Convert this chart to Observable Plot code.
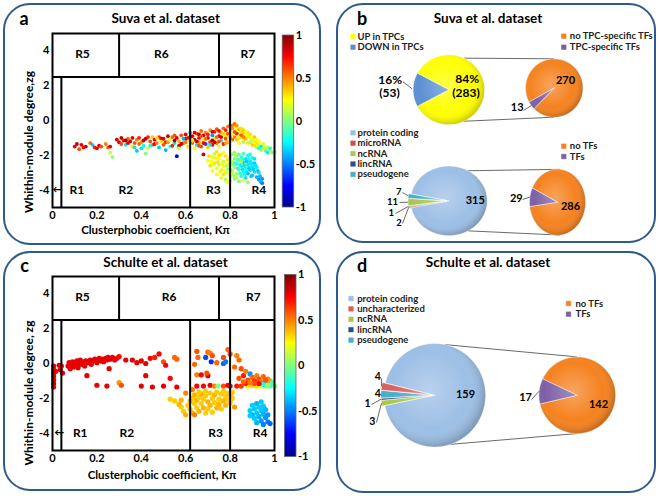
<!DOCTYPE html>
<html><head><meta charset="utf-8">
<script src="https://cdn.jsdelivr.net/npm/d3@7"></script>
<script src="https://cdn.jsdelivr.net/npm/@observablehq/plot@0.6"></script>
<style>
body{margin:0;background:#fff;font-family:Lato,"Open Sans",sans-serif;}
#root{position:relative;width:660px;height:496px;overflow:hidden;background:#fff;}
.panel{position:absolute;border:2px solid #2f5b8c;border-radius:27px;box-sizing:border-box;}
.t{position:absolute;font-weight:bold;white-space:nowrap;color:#000;transform:translate(-50%,-50%);line-height:1;}
</style></head>
<body><div id="root"></div>
<script>
// ---------------- DATA ----------------
const xTicks = [0, 0.2, 0.4, 0.6, 0.8, 1];
const yTicks = [-4, -2, 0, 2, 4];
const cbTicks = [-1, -0.5, 0, 0.5, 1];
const zBoundary = [2.5];
const upperBounds = [0.3, 0.75];
const lowerBounds = [0.04, 0.62, 0.8];
const regionNames = ["R1","R2","R3","R4","R5","R6","R7"];

// Suva scatter [K, z, colour value]
const suvaPoints = [
[0.10,-1.50,0.8],[0.11,-1.35,0.85],[0.12,-1.65,0.6],[0.13,-1.40,0.8],[0.14,-1.55,0.75],[0.15,-1.50,0.85],[0.17,-1.30,0.55],[0.18,-1.40,-0.35],[0.19,-1.55,0.7],[0.20,-1.60,0.8],[0.21,-1.45,0.85],[0.22,-1.50,0.6],[0.24,-1.35,0.5],[0.25,-1.55,0.55],[0.26,-1.85,0.15],[0.27,-2.10,0.05],[0.26,-1.50,0.8],
[0.29,-1.10,0.85],[0.30,-1.25,0.8],[0.31,-1.00,0.9],[0.32,-1.15,0.75],[0.33,-1.40,-0.3],[0.34,-1.05,0.55],[0.35,-1.20,0.85],[0.36,-1.50,0.3],[0.37,-1.30,0.6],[0.38,-1.75,-0.35],[0.38,-1.10,0.5],[0.39,-1.00,0.7],[0.40,-1.25,0.45],[0.41,-1.45,-0.2],[0.42,-1.05,0.9],[0.43,-1.60,0.15],[0.44,-1.20,0.6],[0.45,-0.95,0.35],[0.45,-1.40,0.55],[0.42,-1.90,0.0],[0.34,-1.30,0.8],[0.40,-1.60,-0.3],
[0.31,-1.35,0.6],[0.33,-1.15,0.9],[0.36,-1.00,0.8],[0.37,-1.55,-0.3],[0.39,-1.35,0.55],[0.41,-1.15,0.85],[0.43,-0.95,0.7],[0.44,-1.45,-0.25],[0.46,-1.35,0.8],[0.49,-1.05,0.9],[0.51,-1.25,0.7],[0.53,-1.50,-0.2],[0.55,-0.85,0.6],[0.57,-1.45,0.85],[0.59,-1.30,0.55],[0.60,-1.05,0.9],
[0.46,-1.10,0.85],[0.47,-1.30,0.5],[0.48,-0.95,0.7],[0.48,-1.55,-0.35],[0.49,-1.20,0.3],[0.50,-1.05,0.8],[0.50,-1.40,0.6],[0.51,-1.70,-0.4],[0.52,-0.90,0.85],[0.52,-1.25,0.45],[0.53,-1.10,0.2],[0.54,-1.45,0.7],[0.54,-0.95,0.55],[0.55,-1.30,-0.3],[0.56,-2.05,-0.85],[0.56,-1.00,0.8],[0.57,-1.20,0.4],[0.57,-1.60,0.1],[0.58,-0.85,0.6],[0.58,-1.35,0.85],[0.59,-1.05,-0.4],[0.60,-1.25,0.5],[0.60,-0.80,0.8],[0.61,-1.50,0.3],[0.61,-1.00,0.7],[0.62,-1.20,0.2],[0.62,-0.70,-0.35],[0.47,-1.00,0.3],[0.55,-1.15,0.9],
[0.63,-0.90,0.8],[0.63,-1.30,0.55],[0.64,-1.10,0.85],[0.64,-1.60,0.25],[0.65,-0.75,0.6],[0.65,-1.40,-0.3],[0.66,-1.00,0.75],[0.66,-1.25,0.45],[0.67,-0.60,0.55],[0.67,-1.50,0.6],[0.68,-0.85,0.85],[0.68,-1.15,0.3],[0.69,-1.35,-0.6],[0.69,-0.70,0.5],[0.70,-1.00,0.8],[0.70,-1.55,0.35],[0.71,-0.55,0.45],[0.71,-1.25,0.65],[0.72,-0.85,-0.45],[0.72,-1.40,0.8],[0.73,-1.05,0.3],[0.73,-0.65,0.7],[0.74,-1.30,0.5],[0.74,-0.50,0.6],[0.75,-0.90,0.85],[0.75,-1.50,0.2],[0.76,-0.70,0.4],[0.76,-1.15,-0.3],[0.77,-0.45,0.55],[0.77,-1.35,0.7],[0.78,-0.85,0.3],[0.78,-1.05,0.6],[0.79,-0.35,0.5],[0.79,-1.25,0.4],[0.68,-1.95,0.85],[0.66,-0.80,0.9],[0.72,-1.15,0.9],[0.75,-0.60,0.75],
[0.62,-0.95,0.85],[0.63,-1.15,0.3],[0.64,-0.70,0.8],[0.65,-1.20,0.85],[0.66,-1.45,0.6],[0.67,-0.90,0.6],[0.68,-1.30,0.8],[0.69,-1.05,0.55],[0.70,-0.80,0.7],[0.71,-1.40,-0.3],[0.72,-0.65,0.85],[0.73,-1.25,0.85],[0.74,-0.95,0.55],[0.75,-1.20,0.6],[0.76,-0.95,0.8],[0.77,-0.75,0.35],[0.78,-0.55,0.7],[0.78,-1.30,0.45],[0.79,-0.75,0.6],
[0.80,-0.30,0.6],[0.80,-0.60,0.3],[0.81,-0.45,0.45],[0.81,-0.80,0.2],[0.82,-0.35,0.3],[0.82,-0.95,0.5],[0.83,-0.55,0.25],[0.83,-1.10,0.35],[0.84,-0.50,0.4],[0.84,-0.75,0.15],[0.85,-0.65,0.3],[0.85,-1.00,0.2],[0.86,-0.70,0.35],[0.86,-1.20,0.1],[0.87,-0.85,0.25],[0.87,-1.05,0.4],[0.88,-0.90,0.2],[0.88,-1.30,0.3],[0.89,-1.00,0.25],[0.90,-1.15,0.15],[0.90,-1.40,0.35],[0.91,-1.20,0.2],[0.92,-1.30,0.3],[0.92,-1.55,0.1],[0.93,-1.40,0.15],[0.94,-1.50,-0.3],[0.94,-1.70,0.05],[0.95,-1.60,0.2],[0.96,-1.75,-0.1],[0.96,-1.55,0.1],[0.97,-1.85,-0.3],[0.98,-1.75,0.05],[0.99,-1.85,0.0],[1.00,-1.80,-0.1],[0.83,-0.75,0.7],[0.85,-0.85,0.6],[0.81,-1.10,0.55],[0.82,-0.20,0.55],[0.84,-1.30,0.25],[0.86,-0.95,0.5],[0.89,-1.25,0.1],[0.91,-1.45,0.3],[0.93,-1.60,-0.2],
[0.80,-0.95,0.5],[0.80,-1.20,0.3],[0.81,-0.30,0.5],[0.82,-0.65,0.6],[0.83,-0.30,0.45],[0.84,-1.00,0.3],[0.85,-0.45,0.3],[0.86,-0.55,0.35],[0.87,-0.65,0.25],[0.88,-0.70,0.3],[0.89,-0.80,0.3],[0.90,-0.95,0.25],[0.91,-0.95,0.35],[0.92,-1.10,0.2],[0.93,-1.20,0.25],[0.95,-1.35,0.2],[0.97,-1.55,0.15],[0.98,-1.60,-0.2],
[0.70,-2.30,0.25],[0.71,-2.60,0.3],[0.72,-2.10,0.2],[0.72,-2.90,0.25],[0.73,-1.90,0.15],[0.73,-2.45,0.3],[0.74,-2.75,0.2],[0.74,-3.10,0.25],[0.75,-2.20,0.25],[0.75,-2.55,0.15],[0.76,-1.95,0.2],[0.76,-2.85,0.3],[0.76,-3.30,0.2],[0.77,-2.35,0.15],[0.77,-2.65,0.25],[0.78,-2.05,0.3],[0.78,-3.00,0.15],[0.78,-3.40,0.1],[0.79,-2.45,0.2],[0.79,-2.80,0.05],[0.80,-2.15,0.1],[0.80,-3.20,0.2],[0.80,-2.60,0.25],[0.81,-1.95,0.0],[0.81,-2.40,-0.1],[0.81,-2.95,0.15],[0.82,-2.20,-0.05],[0.82,-2.70,0.1],[0.82,-3.35,0.0],[0.83,-2.00,-0.15],[0.83,-2.50,-0.2],[0.83,-3.05,0.05],[0.84,-2.30,-0.25],[0.84,-2.85,-0.1],[0.84,-3.50,0.0],[0.85,-2.10,-0.2],[0.85,-2.60,-0.3],[0.85,-3.20,-0.15],[0.86,-1.90,-0.1],[0.86,-2.40,-0.35],[0.86,-2.95,-0.25],[0.87,-2.20,-0.3],[0.87,-2.75,-0.2],[0.87,-3.30,-0.3],[0.88,-2.00,-0.25],[0.88,-2.55,-0.35],[0.88,-3.05,-0.4],[0.89,-2.35,-0.3],[0.89,-2.85,-0.35],[0.90,-2.15,-0.2],[0.90,-2.65,-0.3],[0.90,-3.15,-0.35],[0.91,-2.45,-0.35],[0.91,-2.95,-0.3],[0.92,-3.25,-0.4],[0.92,-2.70,-0.25],[0.93,-3.40,-0.45],[0.94,-3.55,-0.4],[0.93,-3.00,-0.3],[0.88,-3.55,0.05],[0.86,-3.45,0.2],[0.79,-3.55,0.25],[0.75,-2.00,0.3],[0.74,-1.80,0.3],[0.77,-1.85,0.25],[0.84,-1.95,-0.05],[0.89,-1.95,-0.2],[0.82,-1.85,0.05],[0.77,-3.10,0.3],[0.80,-3.45,0.15],[0.83,-3.30,0.1],[0.85,-2.35,0.1],[0.87,-2.50,-0.05],[0.89,-2.60,-0.25],[0.91,-2.20,-0.3],[0.79,-2.25,0.3],
[0.705,-2.05,0.3],[0.715,-2.35,0.25],[0.725,-2.55,0.2],[0.735,-2.15,0.25],[0.745,-2.40,0.3],[0.755,-2.95,0.2],[0.765,-2.50,0.2],[0.775,-2.90,0.25],[0.785,-2.60,0.1],[0.795,-3.05,0.2],[0.805,-2.35,0.15],[0.805,-2.85,0.05],[0.815,-2.55,0.0],[0.815,-3.15,0.1],[0.825,-2.00,0.1],[0.825,-2.45,-0.15],[0.835,-2.75,-0.2],[0.835,-2.25,-0.1],[0.845,-2.55,-0.25],[0.845,-3.05,-0.15],[0.855,-2.80,-0.3],[0.855,-2.20,-0.15],[0.865,-2.60,-0.3],[0.865,-3.10,-0.2],[0.875,-2.35,-0.35],[0.875,-2.95,-0.3],[0.885,-2.75,-0.35],[0.885,-2.20,-0.2],[0.895,-2.45,-0.3],[0.895,-3.20,-0.35],[0.905,-2.80,-0.35],[0.915,-2.60,-0.3],[0.925,-2.90,-0.35],[0.935,-3.20,-0.4],[0.945,-3.35,-0.45],[0.945,-3.60,-0.5]
];

// Schulte scatter [K, z, colour value]
const schultePoints = [
[0.005,-0.15,0.8],[0.005,-0.35,0.8],[0.005,-0.55,0.85],[0.005,-0.75,0.8],[0.005,-0.95,0.8],[0.005,-1.15,0.85],[0.005,-1.35,0.8],[0.015,-0.45,0.8],[0.03,-0.10,0.8],[0.035,-0.35,0.8],[0.04,-0.15,0.75],[0.045,-0.55,0.8],
[0.07,-0.15,0.8],[0.075,0.05,0.8],[0.08,-0.30,0.8],[0.085,-0.05,0.8],[0.09,0.10,0.8],[0.095,-0.20,0.8],[0.10,0.05,0.8],[0.105,-0.10,0.8],[0.11,0.15,0.8],[0.115,-0.25,0.8],[0.12,0.00,0.8],[0.125,0.20,0.8],[0.13,-0.05,0.8],[0.14,0.10,0.8],[0.145,-0.15,0.8],[0.15,0.15,0.8],[0.16,0.05,0.8],[0.17,0.20,0.8],[0.175,-0.05,0.8],[0.18,0.15,0.8],[0.19,0.25,0.8],[0.20,0.05,0.8],[0.205,0.20,0.8],[0.21,0.30,0.8],[0.22,0.15,0.8],[0.225,0.25,0.8],[0.23,0.10,0.8],[0.24,0.30,0.8],[0.245,0.20,0.8],[0.25,0.35,0.8],[0.26,0.25,0.8],[0.27,0.35,0.8],[0.28,0.20,0.8],[0.29,0.30,0.8],[0.30,0.40,0.75],[0.155,-0.70,0.8],[0.255,-0.30,0.8],
[0.33,0.20,0.8],[0.36,0.20,0.8],[0.38,0.05,0.8],[0.40,0.15,0.8],[0.42,0.00,0.8],[0.44,0.30,0.75],[0.46,0.35,0.7],[0.48,0.55,0.75],[0.50,0.10,0.6],[0.51,-0.10,0.75],[0.55,0.35,0.55],[0.56,0.25,0.55],[0.42,-0.70,0.8],[0.53,-0.85,0.75],
[0.20,-1.25,0.8],[0.245,-1.30,0.8],[0.30,-1.10,0.45],[0.31,-1.25,0.6],[0.40,-1.30,0.8],[0.45,-1.35,0.8],[0.50,-1.30,0.8],[0.56,-1.35,0.8],[0.65,-1.30,0.75],[0.68,-1.30,0.75],[0.71,-1.25,0.8],[0.73,-1.30,0.5],[0.745,-1.30,0.0],[0.77,-1.30,0.6],[0.79,-1.25,0.75],[0.80,-1.30,0.8],[0.83,-1.30,0.7],[0.85,-1.30,0.65],
[0.64,-0.05,0.55],[0.65,0.70,0.6],[0.655,0.35,0.55],[0.69,0.35,-0.6],[0.70,0.65,0.55],[0.71,0.60,0.5],[0.715,0.10,-0.65],[0.72,0.45,0.6],[0.74,0.05,0.55],[0.77,0.00,-0.55],[0.78,0.10,-0.5],[0.77,0.35,0.6],[0.79,0.80,0.55],[0.80,0.55,0.6],[0.65,-0.65,0.5],[0.67,-0.65,0.75],[0.70,-0.70,0.8],[0.695,-0.55,0.6],
[0.82,-0.20,0.55],[0.83,0.45,0.5],[0.84,0.20,0.55],[0.85,-0.30,0.6],[0.86,-0.70,0.7],[0.87,-0.45,0.5],[0.88,-0.95,0.6],[0.89,-0.60,-0.45],[0.90,-0.80,0.55],[0.91,-1.00,0.65],[0.92,-0.70,0.5],[0.93,-0.90,0.6],[0.94,-1.05,0.5],[0.95,-0.75,0.55],[0.96,-1.10,-0.3],[0.97,-0.90,0.5],[0.98,-1.00,0.45],[0.99,-1.20,0.4],[1.00,-1.30,0.0],[0.98,-1.30,-0.1],[0.96,-1.30,0.1],[0.94,-1.30,0.25],[0.92,-1.30,0.3],[0.90,-1.25,0.35],[0.88,-1.30,0.3],[0.87,-1.15,0.7],[0.95,-1.20,-0.2],[0.97,-1.25,0.05],[0.99,-1.10,-0.1],[0.93,-1.15,0.75],[0.91,-1.15,0.6],[0.89,-1.10,0.5],[0.86,-1.05,0.55],[0.84,-0.85,0.6],[0.96,-0.95,0.6],
[0.53,-2.05,0.35],[0.55,-2.15,0.35],[0.57,-2.35,0.4],[0.58,-2.50,0.35],[0.59,-2.75,0.35],[0.60,-2.95,0.4],[0.58,-2.10,0.4],[0.61,-2.40,0.35],[0.62,-2.15,0.4],[0.62,-2.65,0.35],[0.63,-2.00,0.35],[0.63,-2.85,0.4],[0.64,-2.30,0.35],[0.64,-1.80,0.4],[0.65,-2.55,0.35],[0.65,-2.10,0.4],[0.66,-1.95,0.35],[0.66,-2.75,0.4],[0.67,-2.30,0.35],[0.67,-1.75,0.4],[0.68,-2.05,0.35],[0.68,-2.55,0.4],[0.69,-2.85,0.35],[0.69,-1.85,0.35],[0.70,-2.20,0.4],[0.70,-2.60,0.35],[0.71,-1.70,0.35],[0.71,-2.40,0.4],[0.72,-2.00,0.35],[0.72,-2.80,0.35],[0.73,-1.80,0.4],[0.73,-2.25,0.35],[0.74,-2.55,0.4],[0.74,-1.65,0.35],[0.75,-2.05,0.35],[0.75,-2.35,0.4],[0.76,-1.75,0.35],[0.76,-2.60,0.35],[0.77,-2.15,0.4],[0.77,-1.60,0.35],[0.78,-1.90,0.35],[0.78,-2.40,0.4],[0.79,-1.70,0.35],[0.79,-2.10,0.35],[0.80,-1.80,0.4],[0.80,-2.25,0.35],[0.81,-1.65,0.35],[0.81,-2.00,0.35],[0.82,-2.50,0.45],[0.66,-1.65,0.35],[0.69,-1.60,0.35],[0.63,-1.50,0.5],[0.60,-1.70,0.5],[0.64,-2.95,0.5],
[0.89,-2.70,-0.35],[0.90,-2.40,-0.35],[0.90,-2.95,-0.4],[0.91,-2.60,-0.35],[0.91,-3.15,-0.35],[0.92,-2.30,-0.4],[0.92,-2.85,-0.35],[0.93,-2.50,-0.35],[0.93,-3.05,-0.4],[0.94,-2.70,-0.35],[0.94,-3.30,-0.45],[0.95,-2.90,-0.4],[0.95,-2.45,-0.35],[0.96,-3.10,-0.45],[0.96,-2.65,-0.4],[0.97,-3.35,-0.5],[0.97,-2.95,-0.45],[0.98,-3.45,-0.55],[0.92,-3.40,-0.4],[0.89,-3.00,-0.35],[0.94,-2.20,-0.35],[0.95,-3.50,-0.5]
];

// Panel b / d pie data
const tpcCategories = ["UP in TPCs", "DOWN in TPCs"];
const tpcCounts = [283, 53];
const tpcTFCategories = ["no TPC-specific TFs", "TPC-specific TFs"];
const tpcTFCounts = [270, 13];
const suvaTypeCategories = ["protein coding", "microRNA", "ncRNA", "lincRNA", "pseudogene"];
const suvaTypeCounts = [315, 2, 11, 1, 7];
const suvaTFCategories = ["no TFs", "TFs"];
const suvaTFCounts = [286, 29];
const schulteTypeCategories = ["protein coding", "uncharacterized", "ncRNA", "lincRNA", "pseudogene"];
const schulteTypeCounts = [159, 4, 3, 1, 4];
const schulteTFCategories = ["no TFs", "TFs"];
const schulteTFCounts = [142, 17];

// ---------------- STYLE / LAYOUT ----------------
const jetDomain = [-1, -0.75, -0.25, 0.25, 0.75, 1];
const jetRange = ["#00008f", "#0000ff", "#00ffff", "#ffff00", "#ff0000", "#800000"];
const FONT = "Lato, 'Open Sans', sans-serif";
const typeColors = {"protein coding":"#9dbfe6","microRNA":"#d0504c","uncharacterized":"#d9605c","ncRNA":"#a9c84c","lincRNA":"#2d4f8c","pseudogene":"#4badc8"};
const ORANGE = "#f5821f", PURPLE = "#7d5fa6";

const root = document.getElementById("root");
function place(el, left, top) { el.style.position = "absolute"; el.style.left = left + "px"; el.style.top = top + "px"; root.appendChild(el); }
function txt(s, x, y, size, rot) {
  const d = document.createElement("div"); d.className = "t"; d.textContent = s;
  d.style.left = x + "px"; d.style.top = y + "px"; d.style.fontSize = size + "px";
  if (rot) d.style.transform = "translate(-50%,-50%) rotate(-90deg)";
  root.appendChild(d);
}
function panel(l, t, w, h) { const d = document.createElement("div"); d.className = "panel"; d.style.left = l+"px"; d.style.top = t+"px"; d.style.width = w+"px"; d.style.height = h+"px"; root.appendChild(d); }

panel(3, 3, 318, 242); panel(336, 3, 320, 240); panel(3, 251, 318, 240); panel(336, 251, 320, 242);

const color = {type: "linear", domain: jetDomain, range: jetRange};

function scatter(points, L) {
  const regionLabels = regionNames.map((n, i) => ({n, x: L.rx[i], y: i < 4 ? L.lowY : L.topY}));
  return Plot.plot({
    width: 300, height: 245,
    marginLeft: 52, marginRight: 26, marginTop: L.mt, marginBottom: L.mb,
    x: {domain: [0, 1], ticks: xTicks, tickFormat: d => String(d), tickSize: 0, tickPadding: 4, label: null},
    y: {domain: [-5, 5], ticks: yTicks, tickFormat: d => String(d), tickSize: 0, tickPadding: 3, label: null},
    color,
    style: {fontFamily: FONT, fontSize: "11px", fontWeight: "bold", background: "transparent", color: "#000", overflow: "visible"},
    marks: [
      Plot.dot(points, {x: d => d[0], y: d => d[1], fill: d => d[2], r: L.r, stroke: null}),
      Plot.ruleY(zBoundary, {stroke: "#000", strokeWidth: 2}),
      Plot.ruleX(upperBounds, {y1: zBoundary[0], y2: 5, stroke: "#000", strokeWidth: 2}),
      Plot.ruleX(lowerBounds, {y1: -5, y2: zBoundary[0], stroke: "#000", strokeWidth: 2}),
      Plot.frame({stroke: "#000", strokeWidth: 2}),
      Plot.text(regionLabels, {x: "x", y: "y", text: "n", fontSize: 12, fontWeight: "bold", fill: "#000"}),
      Plot.text(["←"], {x: L.arrowX, y: L.lowY, text: d => d, fontSize: 10, fill: "#000"})
    ]
  });
}

function colorbar(L) {
  return Plot.plot({
    width: 50, height: 245,
    marginLeft: L.ml, marginRight: 50 - L.ml - 11.5, marginTop: L.mt, marginBottom: L.mb,
    x: {domain: [0, 1], axis: null},
    y: {domain: [-1, 1], ticks: cbTicks, tickFormat: d => String(d), tickSize: 0, tickPadding: 2, axis: "right", label: null},
    color,
    style: {fontFamily: FONT, fontSize: "11px", fontWeight: "bold", background: "transparent", color: "#000", overflow: "visible"},
    marks: [
      Plot.raster({x1: 0, x2: 1, y1: -1, y2: 1, width: 1, height: 256, fill: (x, y) => y, imageRendering: "auto"}),
      Plot.frame({stroke: "#666", strokeWidth: 0.8})
    ]
  });
}

// Panel a
place(scatter(suvaPoints, {mt: 33, mb: 38, r: 1.9, rx: [0.11, 0.33, 0.725, 0.93, 0.135, 0.49, 0.88], lowY: -4, topY: 3.8, arrowX: 0.022}), 0, 0);
place(colorbar({ml: 11.7, mt: 34.5, mb: 38.5}), 270, 0);
// Panel c
place(scatter(schultePoints, {mt: 28, mb: 43, r: 2.6, rx: [0.125, 0.335, 0.735, 0.935, 0.135, 0.525, 0.905], lowY: -4.0, topY: 3.8, arrowX: 0.03}), 0, 248);
place(colorbar({ml: 14, mt: 26, mb: 37}), 270, 248);

// ---- pies ----
function pieSlices(values, cols, order, P) {
  const vals = order.map(i => values[i]);
  const T = d3.sum(vals);
  const th0 = 2 * Math.PI * vals[0] / T;
  const A = P.focus * Math.PI / 180;
  const s = A - th0 - (2 * Math.PI - th0) / 2;
  const arcs = d3.pie().sort(null).startAngle(s).endAngle(s + 2 * Math.PI)(vals);
  return arcs.map((a, k) => {
    const idx = order[k];
    const mid = (a.startAngle + a.endAngle) / 2;
    const off = k > 0 ? (P.explode || 0) : 0;
    const cx = P.cx + off * Math.sin(mid), cy = P.cy - off * Math.cos(mid);
    const n = Math.max(2, Math.ceil((a.endAngle - a.startAngle) / 0.03));
    const pts = [[cx, cy]];
    for (let i = 0; i <= n; i++) {
      const ang = a.startAngle + (a.endAngle - a.startAngle) * i / n;
      pts.push([cx + P.rx * Math.sin(ang), cy - P.ry * Math.cos(ang)]);
    }
    pts.push([cx, cy]);
    return {idx, color: cols[idx], pts, mid, rim: [cx + P.rx * Math.sin(mid), cy - P.ry * Math.cos(mid)]};
  });
}
function rimPoint(P, deg) { const a = deg * Math.PI / 180; return [P.cx + P.rx * Math.sin(a), P.cy - P.ry * Math.cos(a)]; }
function sliceMarks(sl) {
  return sl.map(s => Plot.line(s.pts, {x: p => p[0], y: p => p[1], fill: s.color, stroke: "#fff", strokeWidth: 0.6, strokeOpacity: 0.8}));
}
function shade(P) {
  const ring = d3.range(0, 361, 4).map(d => rimPoint(P, d));
  return Plot.line(ring, {x: p => p[0], y: p => p[1], fill: "url(#pieShade)", stroke: "none"});
}
function addDefs(svg) {
  const defs = document.createElementNS("http://www.w3.org/2000/svg", "defs");
  defs.innerHTML = '<radialGradient id="pieShade" cx="0.45" cy="0.45" r="0.55"><stop offset="0" stop-color="#fff" stop-opacity="0.28"/><stop offset="0.7" stop-color="#fff" stop-opacity="0"/><stop offset="1" stop-color="#000" stop-opacity="0.18"/></radialGradient>';
  svg.insertBefore(defs, svg.firstChild);
  return svg;
}
function connectors(P1, P2, ang) {
  const links = ang.map(([a1, a2]) => { const p = rimPoint(P1, a1), q = rimPoint(P2, a2); return {x1: p[0], y1: p[1], x2: q[0], y2: q[1]}; });
  return Plot.link(links, {x1: "x1", y1: "y1", x2: "x2", y2: "y2", stroke: "#444", strokeWidth: 0.8});
}
function legend(cats, cols, L) {
  const items = cats.map((c, i) => ({c, col: cols[i], y: L.y0 + i * L.dy}));
  return [
    Plot.dot(items, {x: () => L.mx, y: "y", symbol: "square", r: 2.6, fill: "col", stroke: "col", strokeWidth: 0.5}),
    Plot.text(items, {x: () => L.tx, y: "y", text: "c", textAnchor: "start", fontSize: 9.5, fontWeight: "bold", fill: "#222"})
  ];
}
function labels(items, size) {
  return Plot.text(items, {x: "x", y: "y", text: "t", fontSize: size, fontWeight: "bold", fill: "#000", lineHeight: 1});
}
function leaders(items) {
  return Plot.link(items, {x1: "x1", y1: "y1", x2: "x2", y2: "y2", stroke: "#444", strokeWidth: 0.8});
}
const pct = (v, arr) => Math.round(100 * v / d3.sum(arr)) + "%";
const pieScales = {x: {type: "identity", axis: null}, y: {type: "identity", axis: null}, color: {type: "identity"}};

// Panel b
{
  const P1 = {cx: 118.3, cy: 89.2, rx: 35.7, ry: 34.8, focus: 270};
  const P2 = {cx: 223.7, cy: 87.5, rx: 28.7, ry: 29.2, focus: 233};
  const P3 = {cx: 118.3, cy: 200.3, rx: 38.3, ry: 34.7, focus: 270, explode: 2.5};
  const P4 = {cx: 227, cy: 201.7, rx: 28, ry: 33, focus: 279};
  const s1 = pieSlices(tpcCounts, ["#ffff00", "#5b8fd4"], [0, 1], P1);
  const s2 = pieSlices(tpcTFCounts, [ORANGE, PURPLE], [0, 1], P2);
  const s3 = pieSlices(suvaTypeCounts, suvaTypeCategories.map(c => typeColors[c]), [0, 1, 3, 2, 4], P3);
  const s4 = pieSlices(suvaTFCounts, [ORANGE, PURPLE], [0, 1], P4);
  const blue = s1.find(s => s.idx === 1), tf13 = s2.find(s => s.idx === 1), tf29 = s4.find(s => s.idx === 1);
  const sm = i => s3.find(s => s.idx === i).rim;
  const svg = Plot.plot({
    width: 330, height: 248, margin: 0, ...pieScales,
    style: {fontFamily: FONT, background: "transparent", overflow: "visible"},
    marks: [
      connectors(P1, P2, [[25, 0], [155, 180]]),
      connectors(P3, P4, [[30, 5], [150, 175]]),
      ...sliceMarks(s1), ...sliceMarks(s2), ...sliceMarks(s3), ...sliceMarks(s4),
      shade(P1), shade(P2), shade(P3), shade(P4),
      ...legend(tpcCategories, ["#ffff00", "#5b8fd4"], {mx: 22.5, tx: 27, y0: 36, dy: 10.7}),
      ...legend(tpcTFCategories, [ORANGE, PURPLE], {mx: 233.3, tx: 239.3, y0: 35.7, dy: 11}),
      ...legend(suvaTypeCategories, suvaTypeCategories.map(c => typeColors[c]), {mx: 22.5, tx: 27, y0: 132.3, dy: 10.4}),
      ...legend(suvaTFCategories, [ORANGE, PURPLE], {mx: 233.3, tx: 239.3, y0: 145.7, dy: 10.3}),
      labels([{x: 136.7, y: 79, t: pct(tpcCounts[0], tpcCounts)}, {x: 135.5, y: 92.5, t: "(" + tpcCounts[0] + ")"},
              {x: 59.7, y: 79.3, t: pct(tpcCounts[1], tpcCounts)}, {x: 59, y: 92.8, t: "(" + tpcCounts[1] + ")"}], 12),
      labels([{x: 235, y: 79.7, t: String(tpcTFCounts[0])}, {x: 186.7, y: 107.3, t: String(tpcTFCounts[1])},
              {x: 144.7, y: 200, t: String(suvaTypeCounts[0])},
              {x: 185.8, y: 197.7, t: String(suvaTFCounts[1])}, {x: 240, y: 206.3, t: String(suvaTFCounts[0])}], 11),
      labels([{x: 68.3, y: 191.3, t: String(suvaTypeCounts[4])}, {x: 62, y: 201, t: String(suvaTypeCounts[2])},
              {x: 60.8, y: 212.5, t: String(suvaTypeCounts[3])}, {x: 68.5, y: 222.5, t: String(suvaTypeCounts[1])}], 9.5),
      leaders([
        {x1: 72, y1: 192, x2: sm(4)[0], y2: sm(4)[1]},
        {x1: 69, y1: 202, x2: sm(2)[0], y2: sm(2)[1]},
        {x1: 65, y1: 213, x2: sm(3)[0], y2: sm(3)[1]},
        {x1: 72, y1: 223, x2: sm(1)[0], y2: sm(1)[1]}
      ]),
      leaders([
        {x1: 72, y1: 81, x2: blue.rim[0] - 1, y2: blue.rim[1] - 1},
        {x1: 193, y1: 110, x2: tf13.rim[0], y2: tf13.rim[1]},
        {x1: 192, y1: 199, x2: tf29.rim[0], y2: tf29.rim[1]}
      ])
    ]
  });
  place(addDefs(svg), 330, 0);
}

// Panel d
{
  const P1 = {cx: 104.2, cy: 146.7, rx: 50.8, ry: 51.7, focus: 271, explode: 3};
  const P2 = {cx: 246.7, cy: 146.7, rx: 38.3, ry: 38.3, focus: 276};
  const s1 = pieSlices(schulteTypeCounts, schulteTypeCategories.map(c => typeColors[c]), [0, 2, 3, 4, 1], P1);
  const s2 = pieSlices(schulteTFCounts, [ORANGE, PURPLE], [0, 1], P2);
  const sm = i => s1.find(s => s.idx === i).rim;
  const tf17 = s2.find(s => s.idx === 1);
  const svg = Plot.plot({
    width: 330, height: 248, margin: 0, ...pieScales,
    style: {fontFamily: FONT, background: "transparent", overflow: "visible"},
    marks: [
      connectors(P1, P2, [[12, 0], [162, 180]]),
      ...sliceMarks(s1), ...sliceMarks(s2),
      shade(P1), shade(P2),
      ...legend(schulteTypeCategories, schulteTypeCategories.map(c => typeColors[c]), {mx: 20.5, tx: 26.7, y0: 50, dy: 10.4}),
      ...legend(schulteTFCategories, [ORANGE, PURPLE], {mx: 238, tx: 245, y0: 55, dy: 10.7}),
      labels([{x: 135, y: 145.8, t: String(schulteTypeCounts[0])},
              {x: 195, y: 149, t: String(schulteTFCounts[1])}, {x: 268, y: 156.3, t: String(schulteTFCounts[0])}], 11),
      labels([{x: 47.2, y: 127.7, t: String(schulteTypeCounts[1])}, {x: 47.2, y: 145.5, t: String(schulteTypeCounts[4])},
              {x: 37, y: 155, t: String(schulteTypeCounts[3])}, {x: 41.7, y: 173.3, t: String(schulteTypeCounts[2])}], 10.5),
      leaders([
        {x1: 51, y1: 130, x2: sm(1)[0], y2: sm(1)[1]},
        {x1: 51, y1: 147, x2: sm(4)[0], y2: sm(4)[1]},
        {x1: 41, y1: 156, x2: sm(3)[0], y2: sm(3)[1]},
        {x1: 46, y1: 174, x2: sm(2)[0], y2: sm(2)[1]}
      ]),
      leaders([{x1: 201, y1: 151, x2: tf17.rim[0], y2: tf17.rim[1]}])
    ]
  });
  place(addDefs(svg), 330, 248);
}

// ---- text ----
txt("a", 24, 18, 18); txt("Suva et al. dataset", 165.7, 19, 13.5);
txt("Clusterphobic coefficient, Kπ", 155.5, 230, 11.5);
txt("Whithin-module degree,zg", 29, 142, 12, true);
txt("b", 362, 18, 18); txt("Suva et al. dataset", 488, 19, 13.5);
txt("c", 24.5, 265, 18); txt("Schulte et al. dataset", 165.5, 263, 13.5);
txt("Clusterphobic coefficient, Kπ", 162, 474.7, 11.5);
txt("Whithin-module degree, zg", 28.5, 393, 12, true);
txt("d", 362, 264.7, 18); txt("Schulte et al. dataset", 488, 263, 13.5);
</script></body></html>
